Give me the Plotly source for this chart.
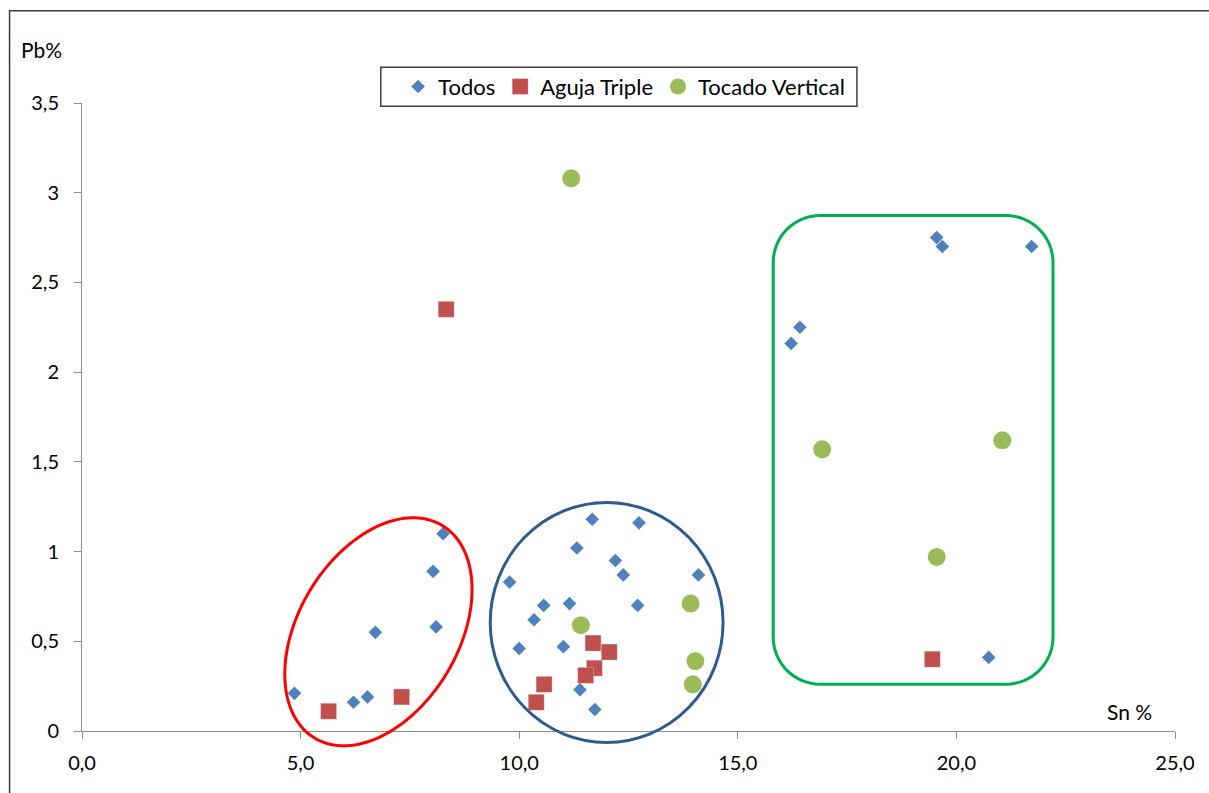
import math
import plotly.graph_objects as go

# ---- data ----
todos_x = [4.86, 6.21, 6.53, 6.71, 8.10, 8.03, 8.26,
           11.67, 12.74, 11.32, 12.20, 12.38, 14.10, 9.78, 10.56, 11.15, 12.71,
           10.34, 10.00, 11.01, 11.39, 11.73,
           19.55, 19.68, 21.72, 16.42, 16.22, 20.74]
todos_y = [0.21, 0.16, 0.19, 0.55, 0.58, 0.89, 1.10,
           1.18, 1.16, 1.02, 0.95, 0.87, 0.87, 0.83, 0.70, 0.71, 0.70,
           0.62, 0.46, 0.47, 0.23, 0.12,
           2.75, 2.70, 2.70, 2.25, 2.16, 0.41]

aguja_x = [5.64, 7.31, 8.33, 11.69, 12.06, 11.72, 11.52, 10.57, 10.39, 19.45]
aguja_y = [0.11, 0.19, 2.35, 0.49, 0.44, 0.35, 0.31, 0.26, 0.16, 0.40]

tocado_x = [11.19, 11.41, 13.92, 14.03, 13.97, 16.93, 21.05, 19.55]
tocado_y = [3.08, 0.59, 0.71, 0.39, 0.26, 1.57, 1.62, 0.97]

x_ticks = [0, 5, 10, 15, 20, 25]
x_ticktext = ["0,0", "5,0", "10,0", "15,0", "20,0", "25,0"]
y_ticks = [0, 0.5, 1, 1.5, 2, 2.5, 3, 3.5]
y_ticktext = ["0", "0,5", "1", "1,5", "2", "2,5", "3", "3,5"]

X_RANGE = [0, 25]
Y_RANGE = [0, 3.5]

# ---- layout geometry ----
W, H = 1209, 793
ML, MR, MT, MB = 81.5, 33.7, 103.3, 61.8
PW = W - ML - MR
PH = H - MT - MB
XPX = PW / (X_RANGE[1] - X_RANGE[0])   # px per x unit
YPX = PH / (Y_RANGE[1] - Y_RANGE[0])   # px per y unit

FONT = "Lato"
AXIS_COLOR = "#8c8c8c"


def px2paper(px, py):
    return (px - ML) / PW, (H - MB - py) / PH


def d2p(x, y):
    """data -> paper (so decoration shapes are not clipped by the plot area)"""
    return ((x - X_RANGE[0]) / (X_RANGE[1] - X_RANGE[0]),
            (y - Y_RANGE[0]) / (Y_RANGE[1] - Y_RANGE[0]))


fig = go.Figure()
fig.add_trace(go.Scatter(x=todos_x, y=todos_y, mode="markers", name="Todos",
                         marker=dict(symbol="diamond", size=10.5, color="#4F81BD",
                                     line=dict(width=0))))
fig.add_trace(go.Scatter(x=aguja_x, y=aguja_y, mode="markers", name="Aguja Triple",
                         marker=dict(symbol="square", size=16, color="#C0504D",
                                     line=dict(width=0.8, color="rgba(255,255,255,0.35)"))))
fig.add_trace(go.Scatter(x=tocado_x, y=tocado_y, mode="markers", name="Tocado Vertical",
                         marker=dict(symbol="circle", size=18, color="#9BBB59",
                                     line=dict(width=0))))

shapes = []


def pathstr(points):
    return "M " + " L ".join(f"{x:.5f},{y:.5f}" for x, y in points) + " Z"


# red rotated ellipse
cx, cy, a, b, th = 6.78, 0.553, 124.0, 80.0, math.radians(59)
pts = []
for i in range(160):
    t = 2 * math.pi * i / 160
    dx = a * math.cos(t) * math.cos(th) - b * math.sin(t) * math.sin(th)
    dy = a * math.cos(t) * math.sin(th) + b * math.sin(t) * math.cos(th)
    pts.append(d2p(cx + dx / XPX, cy + dy / YPX))
shapes.append(dict(type="path", path=pathstr(pts), xref="paper", yref="paper",
                   line=dict(color="#FF0000", width=3)))

# blue circle
bcx, bcy, brx, bry = 12.0, 0.605, 116.5 / XPX, 120.0 / YPX
bx0, by0 = d2p(bcx - brx, bcy - bry)
bx1, by1 = d2p(bcx + brx, bcy + bry)
shapes.append(dict(type="circle", xref="paper", yref="paper",
                   x0=bx0, x1=bx1, y0=by0, y1=by1,
                   line=dict(color="#2F5A8E", width=3)))

# green rounded rectangle
gx0, gx1, gy0, gy1 = 15.81, 22.21, 0.261, 2.873
rx, ry = 47 / XPX, 47 / YPX
corners = [
    (gx1 - rx, gy1 - ry, 0.0),            # top-right
    (gx1 - rx, gy0 + ry, -math.pi / 2),   # bottom-right
    (gx0 + rx, gy0 + ry, -math.pi),       # bottom-left
    (gx0 + rx, gy1 - ry, math.pi / 2),    # top-left
]
gpts = []
for ccx, ccy, start in corners:
    for j in range(17):
        ang = start + math.pi / 2 - (math.pi / 2) * j / 16
        gpts.append(d2p(ccx + rx * math.cos(ang), ccy + ry * math.sin(ang)))
shapes.append(dict(type="path", path=pathstr(gpts), xref="paper", yref="paper",
                   line=dict(color="#00B050", width=3)))

# outer chart frame (partially visible)
fx0, fy1 = px2paper(9, 11)
fx1, fy0 = px2paper(W + 20, H + 20)
shapes.append(dict(type="rect", xref="paper", yref="paper",
                   x0=fx0, x1=fx1, y0=fy0, y1=fy1,
                   line=dict(color="#3a3a3a", width=1.5), layer="below"))

# legend box
lbx0, lby1 = px2paper(380.5, 67.5)
lbx1, lby0 = px2paper(857, 106.5)
shapes.append(dict(type="rect", xref="paper", yref="paper",
                   x0=lbx0, x1=lbx1, y0=lby0, y1=lby1,
                   line=dict(color="#404040", width=1.5), layer="above"))

annotations = []
ax, ay = px2paper(40.5, 50)
annotations.append(dict(text="Pb%", x=ax, y=ay, xref="paper", yref="paper",
                        showarrow=False, xanchor="center", yanchor="middle",
                        font=dict(family=FONT, size=21, color="#000000")))
sx, sy = px2paper(1129.5, 711.5)
annotations.append(dict(text="Sn %", x=sx, y=sy, xref="paper", yref="paper",
                        showarrow=False, xanchor="center", yanchor="middle",
                        font=dict(family=FONT, size=21, color="#000000")))

lx, ly = px2paper(624, 87)

fig.update_layout(
    width=W, height=H,
    margin=dict(l=ML, r=MR, t=MT, b=MB, pad=0),
    paper_bgcolor="white", plot_bgcolor="white",
    font=dict(family=FONT, size=20, color="#000000"),
    showlegend=True,
    legend=dict(orientation="h", x=lx, y=ly, xanchor="center", yanchor="middle",
                xref="paper", yref="paper",
                borderwidth=0, bgcolor="rgba(0,0,0,0)",
                font=dict(family=FONT, size=22, color="#000000"),
                itemsizing="trace", tracegroupgap=0, itemwidth=30),
    shapes=shapes,
    annotations=annotations,
    xaxis=dict(range=X_RANGE, tickvals=x_ticks, ticktext=x_ticktext,
               showgrid=False, zeroline=False, showline=True, linecolor=AXIS_COLOR,
               linewidth=1, ticks="outside", ticklen=7, tickcolor=AXIS_COLOR,
               ticklabelstandoff=7, tickfont=dict(family=FONT, size=20)),
    yaxis=dict(range=Y_RANGE, tickvals=y_ticks, ticktext=y_ticktext,
               showgrid=False, zeroline=False, showline=True, linecolor=AXIS_COLOR,
               linewidth=1, ticks="outside", ticklen=7, tickcolor=AXIS_COLOR,
               ticklabelstandoff=11, tickfont=dict(family=FONT, size=20)),
)

fig.write_html("out.html", config={"displayModeBar": False},
               post_script="document.body.style.margin='0';document.body.style.padding='0';")
